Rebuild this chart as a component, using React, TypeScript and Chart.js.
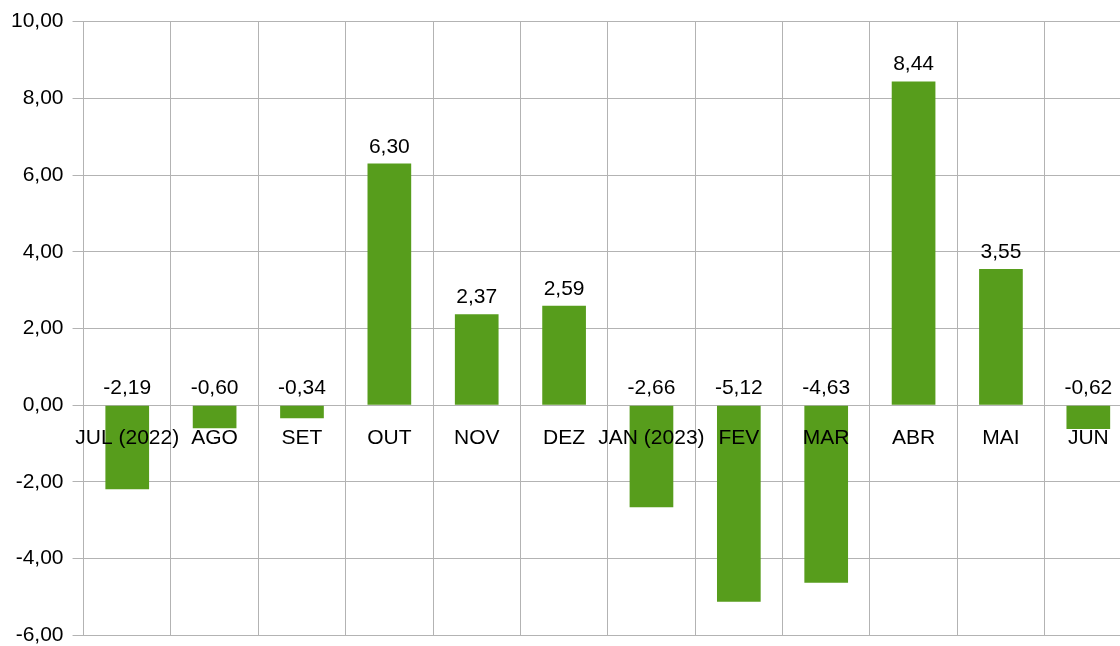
import React, { useEffect, useRef } from "react";
import { Chart, registerables } from "chart.js";

Chart.register(...registerables);

const categories = ["JUL (2022)", "AGO", "SET", "OUT", "NOV", "DEZ", "JAN (2023)", "FEV", "MAR", "ABR", "MAI", "JUN"];
const values = [-2.19, -0.6, -0.34, 6.3, 2.37, 2.59, -2.66, -5.12, -4.63, 8.44, 3.55, -0.62];
const yMin = -6;
const yMax = 10;
const yStep = 2;

const fmt = (v: number) => v.toFixed(2).replace(".", ",");
const FONT_FAMILY = "'Liberation Sans', Arial, sans-serif";
const FONT_SIZE = 21;

const labelPlugin = {
  id: "barValueLabels",
  afterDatasetsDraw(chart: any) {
    const ctx = chart.ctx;
    const meta = chart.getDatasetMeta(0);
    const yScale = chart.scales.y;
    ctx.save();
    ctx.font = `${FONT_SIZE}px ${FONT_FAMILY}`;
    ctx.fillStyle = "#000";
    ctx.textAlign = "center";
    ctx.textBaseline = "alphabetic";
    meta.data.forEach((bar: any, i: number) => {
      const v = values[i];
      const y = yScale.getPixelForValue(Math.max(v, 0)) - 11;
      ctx.fillText(fmt(v), bar.x, y);
    });
    ctx.restore();
  },
};

export default function App() {
  const ref = useRef<HTMLCanvasElement | null>(null);
  useEffect(() => {
    if (!ref.current) return;
    const font = { family: FONT_FAMILY, size: FONT_SIZE };
    const chart = new Chart(ref.current, {
      type: "bar",
      data: {
        labels: categories,
        datasets: [
          {
            data: values,
            backgroundColor: "#579d1c",
            barPercentage: 0.5,
            categoryPercentage: 1,
          },
        ],
      },
      options: {
        responsive: false,
        animation: false,
        devicePixelRatio: 1,
        layout: { padding: { left: 2, top: 11, right: 0, bottom: 0 } },
        plugins: { legend: { display: false }, tooltip: { enabled: false } },
        scales: {
          x: {
            position: { y: 0 } as any,
            offset: true,
            grid: { offset: true, color: "#b3b3b3", tickLength: 8, lineWidth: 1 },
            border: { color: "#b3b3b3" },
            ticks: { z: 1, color: "#000", font, padding: 12, maxRotation: 0, autoSkip: false } as any,
          },
          y: {
            min: yMin,
            max: yMax,
            grid: { color: "#b3b3b3", tickLength: 11 },
            border: { color: "#b3b3b3" },
            ticks: {
              stepSize: yStep,
              color: "#000",
              font,
              padding: 9,
              callback: (v: any) => fmt(Number(v)),
            },
          },
        },
      },
      plugins: [labelPlugin],
    });
    return () => chart.destroy();
  }, []);
  return (
    <div style={{ position: "absolute", left: 0, top: 0, width: 1120, height: 646, overflow: "hidden", background: "#fff" }}>
      <canvas ref={ref} width={1132} height={657} style={{ display: "block" }} />
    </div>
  );
}
